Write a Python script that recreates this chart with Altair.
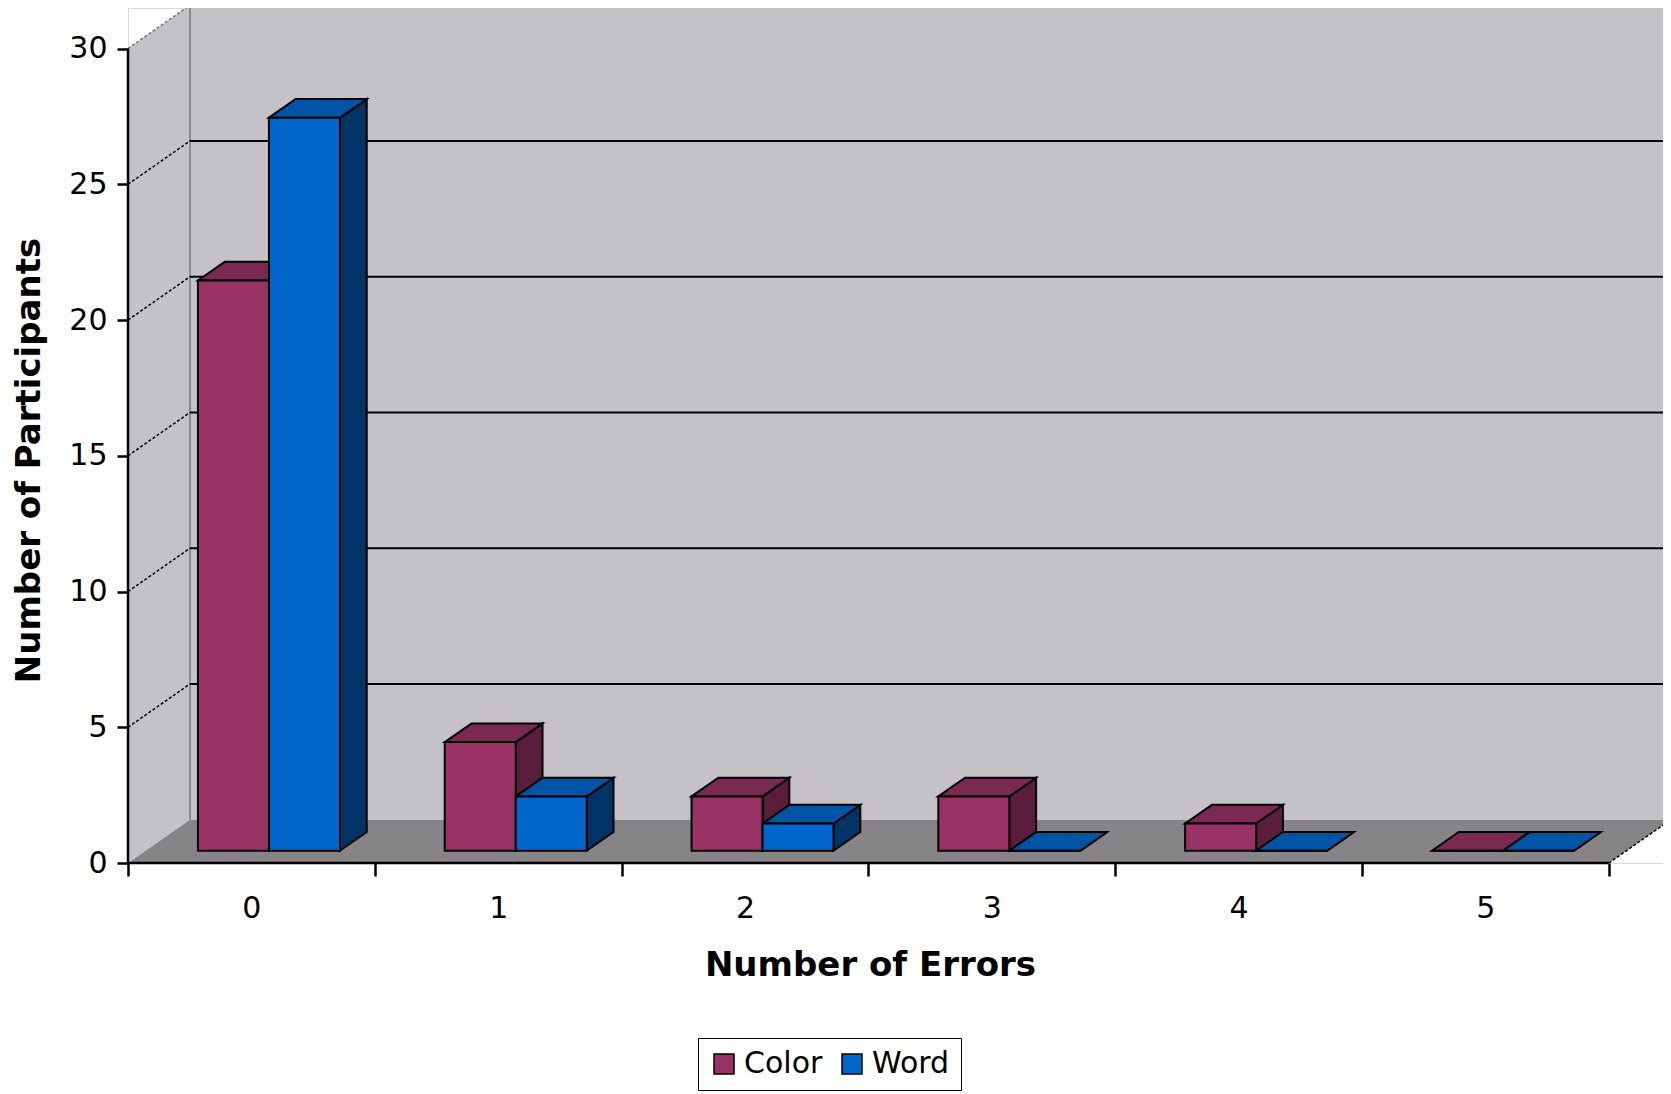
import altair as alt
import pandas as pd

# ---------------- data ----------------
categories = ["0", "1", "2", "3", "4", "5"]
color_counts = [21, 4, 2, 2, 1, 0]
word_counts = [27, 2, 1, 0, 0, 0]
series_names = ["Color", "Word"]
y_ticks = [0, 5, 10, 15, 20, 25, 30]
x_tick_edges = [0, 1, 2, 3, 4, 5, 6]

# ---------------- styling ----------------
front_colors = ["#993366", "#0066CC"]
top_colors = ["#7A2952", "#0054A6"]
side_colors = ["#5A1E3C", "#003366"]
WALL = "#C4C2C6"
FLOOR = "#868486"

W, H = 1535, 855
PX_X = 246.8           # pixels per category
PX_Y = 27.15           # pixels per unit
XMAX = W / PX_X
YMAX = H / PX_Y
DX = 62 / PX_X         # depth offset (x units)
DY = 43.3 / PX_Y       # depth offset (y units)
BAR_W = 0.2877
GAP = 0.212
D0, D1 = 0.284, 0.716
NCAT = len(categories)
YTOP = y_ticks[-1]

xscale = alt.Scale(domain=[0, XMAX], nice=False, zero=False)
yscale = alt.Scale(domain=[0, YMAX], nice=False, zero=False)

xaxis = alt.Axis(
    values=x_tick_edges,
    labelExpr=f"datum.value < {NCAT} ? '' + datum.value : ''",
    labelOffset=PX_X / 2, labelFlush=False, labelOverlap=False, labelBound=False,
    domain=False, grid=False, tickSize=13, tickWidth=2.5, tickColor="black",
    labelFont="DejaVu Sans", labelFontSize=30, labelColor="black",
    labelBaseline="middle", labelPadding=32,
    title="Number of Errors", titleFont="DejaVu Sans", titleFontSize=34,
    titleFontWeight="bold", titleColor="black",
    titleX=742, titleY=102, titleAlign="center", titleBaseline="middle",
)
yaxis = alt.Axis(
    values=y_ticks, labelFlush=False, labelOverlap=False,
    domain=False, grid=False, tickSize=11, tickWidth=2.5, tickColor="black",
    labelFont="DejaVu Sans", labelFontSize=30, labelColor="black", labelPadding=10,
    title="Number of Participants", titleFont="DejaVu Sans", titleFontSize=34,
    titleFontWeight="bold", titleColor="black",
    titleX=-99, titleY=452, titleAngle=270, titleAlign="center", titleBaseline="middle",
)


def X(f):
    return alt.X(f"{f}:Q", scale=xscale, axis=xaxis)


def Y(f):
    return alt.Y(f"{f}:Q", scale=yscale, axis=yaxis, stack=None)


# ---------------- walls & floor ----------------
back_wall = pd.DataFrame([{"x": DX, "x2": XMAX, "y": DY, "y2": YMAX}])
side_wall = pd.DataFrame([
    {"x": 0.0, "lo": 0.0, "hi": float(YTOP)},
    {"x": DX, "lo": DY, "hi": YTOP + DY},
])
floor = pd.DataFrame([
    {"x": 0.0, "lo": 0.0, "hi": 0.0},
    {"x": DX, "lo": 0.0, "hi": DY},
    {"x": float(NCAT), "lo": 0.0, "hi": DY},
    {"x": NCAT + DX, "lo": DY, "hi": DY},
])

wall_layer = alt.Chart(back_wall).mark_rect(fill=WALL).encode(
    x=X("x"), x2="x2", y=Y("y"), y2="y2")
side_layer = alt.Chart(side_wall).mark_area(fill=WALL, orient="vertical", clip=True).encode(
    x=X("x"), y=Y("hi"), y2="lo")
floor_layer = alt.Chart(floor).mark_area(fill=FLOOR, orient="vertical", clip=True).encode(
    x=X("x"), y=Y("hi"), y2="lo")

grid_df = pd.DataFrame([{"x": DX, "x2": XMAX, "y": v + DY} for v in y_ticks[1:] if v + DY < YMAX])
grid_layer = alt.Chart(grid_df).mark_rule(color="black", strokeWidth=2).encode(
    x=X("x"), x2="x2", y=Y("y"))

wall_edge = pd.DataFrame([{"x": DX, "y": DY, "y2": YMAX}])
wall_edge_layer = alt.Chart(wall_edge).mark_rule(color="#8C8C8C", strokeWidth=2).encode(
    x=X("x"), y=Y("y"), y2="y2")

diag_df = pd.DataFrame([{"x": 0.0, "x2": DX, "y": float(v), "y2": v + DY} for v in y_ticks[1:-1]])
diag_layer = alt.Chart(diag_df).mark_rule(color="black", strokeWidth=1.5, strokeDash=[3, 2]).encode(
    x=X("x"), x2="x2", y=Y("y"), y2="y2")
diag_top = pd.DataFrame([{"x": 0.0, "x2": DX, "y": float(YTOP), "y2": YTOP + DY}])
diag_top_layer = alt.Chart(diag_top).mark_rule(color="#777777", strokeWidth=1.5, strokeDash=[3, 2], clip=True).encode(
    x=X("x"), x2="x2", y=Y("y"), y2="y2")
floor_diag = pd.DataFrame([{"x": float(NCAT), "x2": NCAT + DX, "y": 0.0, "y2": DY}])
floor_diag_layer = alt.Chart(floor_diag).mark_rule(color="black", strokeWidth=1.5, strokeDash=[3, 2], clip=True).encode(
    x=X("x"), x2="x2", y=Y("y"), y2="y2")

yline = pd.DataFrame([{"x": 0.0, "y": 0.0, "y2": float(YTOP)}])
yline_layer = alt.Chart(yline).mark_rule(color="black", strokeWidth=2.5).encode(
    x=X("x"), y=Y("y"), y2="y2")
xline = pd.DataFrame([{"x": 0.0, "x2": float(NCAT), "y": 0.0}])
xline_layer = alt.Chart(xline).mark_rule(color="black", strokeWidth=2.5).encode(
    x=X("x"), x2="x2", y=Y("y"))

# ---------------- bars (3D faces) ----------------
fronts, tops, sides = [], [], []
ddx = (D1 - D0) * DX
ddy = (D1 - D0) * DY
yb = D0 * DY
for ci, cat in enumerate(categories):
    for si, (s, vals) in enumerate(zip(series_names, [color_counts, word_counts])):
        v = vals[ci]
        xa = ci + GAP + si * BAR_W + D0 * DX
        xb = xa + BAR_W
        yt = yb + v
        fronts.append({"series": s, "x": xa, "x2": xb, "y": yb, "y2": yt, "count": v, "errors": cat})
        pid = f"{cat}-{s}"
        for (px, lo, hi) in [(xa, yt, yt), (xa + ddx, yt, yt + ddy), (xb, yt, yt + ddy), (xb + ddx, yt + ddy, yt + ddy)]:
            tops.append({"pid": pid, "x": px, "lo": lo, "hi": hi, "fill": top_colors[si]})
        for (px, lo, hi) in [(xb, yb, yt), (xb + ddx, yb + ddy, yt + ddy)]:
            sides.append({"pid": pid, "x": px, "lo": lo, "hi": hi, "fill": side_colors[si]})

side_faces = alt.Chart(pd.DataFrame(sides)).mark_area(
    orient="vertical", stroke="black", strokeWidth=2, strokeJoin="miter").encode(
    x=X("x"), y=Y("hi"), y2="lo", detail="pid:N", fill=alt.Fill("fill:N", scale=None))
top_faces = alt.Chart(pd.DataFrame(tops)).mark_area(
    orient="vertical", stroke="black", strokeWidth=2, strokeJoin="miter").encode(
    x=X("x"), y=Y("hi"), y2="lo", detail="pid:N", fill=alt.Fill("fill:N", scale=None))
front_faces = alt.Chart(pd.DataFrame(fronts)).mark_rect(stroke="black", strokeWidth=2).encode(
    x=X("x"), x2="x2", y=Y("y"), y2="y2",
    color=alt.Color("series:N", scale=alt.Scale(domain=series_names, range=front_colors),
                    legend=alt.Legend(orient="none", legendX=570, legendY=1030,
                                      direction="horizontal", title=None,
                                      symbolType="square", symbolSize=400,
                                      symbolStrokeColor="black", symbolStrokeWidth=1.5,
                                      labelFont="DejaVu Sans", labelFontSize=30, labelColor="black",
                                      labelOffset=5, columnPadding=14,
                                      strokeColor="black", padding=11)),
)

chart = alt.layer(
    wall_layer, side_layer, floor_layer, wall_edge_layer, grid_layer, diag_layer,
    diag_top_layer, floor_diag_layer,
    side_faces, top_faces, front_faces,
    xline_layer, yline_layer,
).properties(
    width=W, height=H,
    autosize=alt.AutoSizeParams(type="none"),
    padding={"left": 120, "top": 0, "right": 0, "bottom": 231},
    background="white",
).configure_view(strokeWidth=0).configure(font="DejaVu Sans")

chart.save("out.html", embed_options={"renderer": "svg", "actions": False})
